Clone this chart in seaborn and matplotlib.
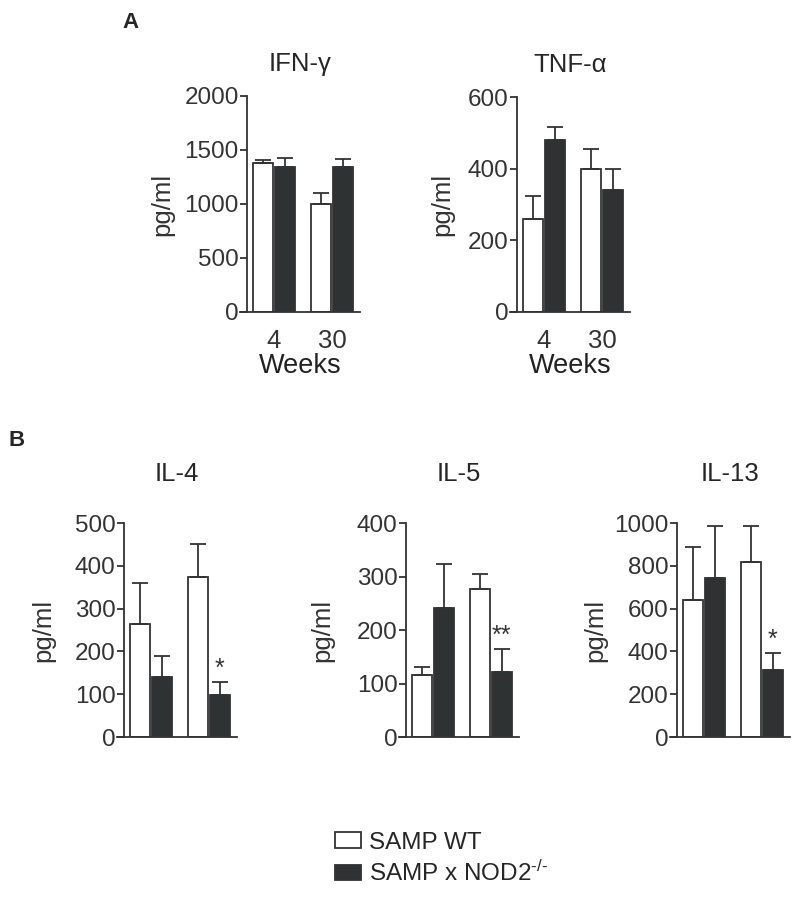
import pandas as pd
import seaborn as sns
import matplotlib.pyplot as plt

sns.set_style("ticks")
plt.rcParams['font.family'] = ['Liberation Sans', 'DejaVu Sans']
plt.rcParams['mathtext.fontset'] = 'custom'
plt.rcParams['mathtext.rm'] = 'Liberation Sans'
plt.rcParams['mathtext.it'] = 'Liberation Sans'

weeks = ["4", "30"]
groups = ["SAMP WT", "SAMP x NOD2$^{\u2010/\u2010}$"]

# panel A
ifn_wt = [1380, 1000]
ifn_wt_err = [30, 100]
ifn_ko = [1340, 1340]
ifn_ko_err = [90, 80]
tnf_wt = [260, 400]
tnf_wt_err = [65, 55]
tnf_ko = [480, 340]
tnf_ko_err = [35, 60]

# panel B
il4_wt = [265, 375]
il4_wt_err = [95, 77]
il4_ko = [140, 97]
il4_ko_err = [50, 31]
il5_wt = [115, 277]
il5_wt_err = [15, 28]
il5_ko = [241, 122]
il5_ko_err = [83, 42]
il13_wt = [641, 817]
il13_wt_err = [247, 170]
il13_ko = [745, 313]
il13_ko_err = [242, 79]

DARK = "#2e3234"
EDGE = "#333333"
W, H = 800, 897

fig = plt.figure(figsize=(8, 8.97), dpi=100)


def make_ax(spine_x, top, bottom):
    # pixel box -> figure fraction; axes starts 7px left of the y spine
    left = spine_x - 7
    width = 120
    return fig.add_axes([left / W, (H - bottom) / H, width / W, (bottom - top) / H])


def ax_left(ax):
    return ax.get_position().x0 * W


def panel(ax, title, wt, wt_err, ko, ko_err, ymax, step, label_x, title_pad,
          stars=None, show_x=False):
    df = pd.DataFrame({
        "week": weeks * 2,
        "group": [groups[0]] * 2 + [groups[1]] * 2,
        "value": wt + ko,
        "err": wt_err + ko_err,
    })
    sns.barplot(data=df, x="week", y="value", hue="group", order=weeks, hue_order=groups,
                palette=["white", DARK], edgecolor=EDGE, linewidth=1.3, width=0.74,
                gap=0.06, errorbar=None, ax=ax, legend=True)
    # upper error bars from the bar patches
    for patch, (_, row) in zip(ax.patches, df.iterrows()):
        cx = patch.get_x() + patch.get_width() / 2
        ax.errorbar(cx, row["value"], yerr=[[0], [row["err"]]], fmt="none",
                    ecolor=EDGE, elinewidth=1.3, capsize=6, capthick=1.3)
    if stars:
        patch = ax.patches[3]
        cx = patch.get_x() + patch.get_width() / 2
        ax.annotate(stars, (cx, ko[1] + ko_err[1]), xytext=(0, 1), textcoords="offset points",
                    ha="center", va="bottom", fontsize=18, color=EDGE)
    ax.set_xlim(-0.586, 1.483)
    ax.set_ylim(0, ymax)
    ax.set_yticks(range(0, ymax + 1, step))
    ax.spines["left"].set_position(("axes", 7 / 120))
    for side in ["left", "bottom"]:
        ax.spines[side].set_color(EDGE)
        ax.spines[side].set_linewidth(1.3)
    sns.despine(ax=ax)
    ax.tick_params(axis="y", labelsize=17.5, colors=EDGE, length=5, width=1.3, pad=1)
    ax.set_ylabel("pg/ml", fontsize=18.5, color=EDGE)
    # label_x is the wanted centre of the rotated label, in pixels
    ax.yaxis.set_label_coords((label_x + 11 - ax_left(ax)) / 120, 0.5)
    if show_x:
        ax.tick_params(axis="x", labelsize=18.5, colors=EDGE, length=0, pad=12)
        ax.set_xlabel("Weeks", fontsize=19.5, color="#222222", labelpad=0)
    else:
        ax.set_xticks([])
        ax.set_xlabel("")
    ax.set_title(title, fontsize=18.5, pad=title_pad)
    handles, labels = ax.get_legend_handles_labels()
    ax.get_legend().remove()
    return handles, labels


ax_ifn = make_ax(247, 96, 312)
handles, labels = panel(ax_ifn, "IFN-γ", ifn_wt, ifn_wt_err, ifn_ko, ifn_ko_err, 2000, 500,
                        163, 18, show_x=True)
ax_tnf = make_ax(517, 97, 312)
panel(ax_tnf, "TNF-α", tnf_wt, tnf_wt_err, tnf_ko, tnf_ko_err, 600, 200,
      443, 18, show_x=True)

ax_il4 = make_ax(124, 523, 737)
panel(ax_il4, "IL-4", il4_wt, il4_wt_err, il4_ko, il4_ko_err, 500, 100,
      44, 30, stars="*")
ax_il5 = make_ax(406, 523, 737)
panel(ax_il5, "IL-5", il5_wt, il5_wt_err, il5_ko, il5_ko_err, 400, 100,
      323, 30, stars="**")
ax_il13 = make_ax(677, 523, 737)
panel(ax_il13, "IL-13", il13_wt, il13_wt_err, il13_ko, il13_ko_err, 1000, 200,
      596, 30, stars="*")

fig.text(122 / W, 1 - 22 / H, "A", fontsize=16, fontweight="bold", va="center")
fig.text(8 / W, 1 - 440 / H, "B", fontsize=16, fontweight="bold", va="center")

fig.legend(handles, labels, loc="upper left", bbox_to_anchor=(325 / W, 1 - 822 / H),
           frameon=False, fontsize=17.5, handlelength=1.1, handleheight=0.6,
           handletextpad=0.3, labelspacing=0.3, borderaxespad=0)

plt.savefig("out.png", dpi=100)
